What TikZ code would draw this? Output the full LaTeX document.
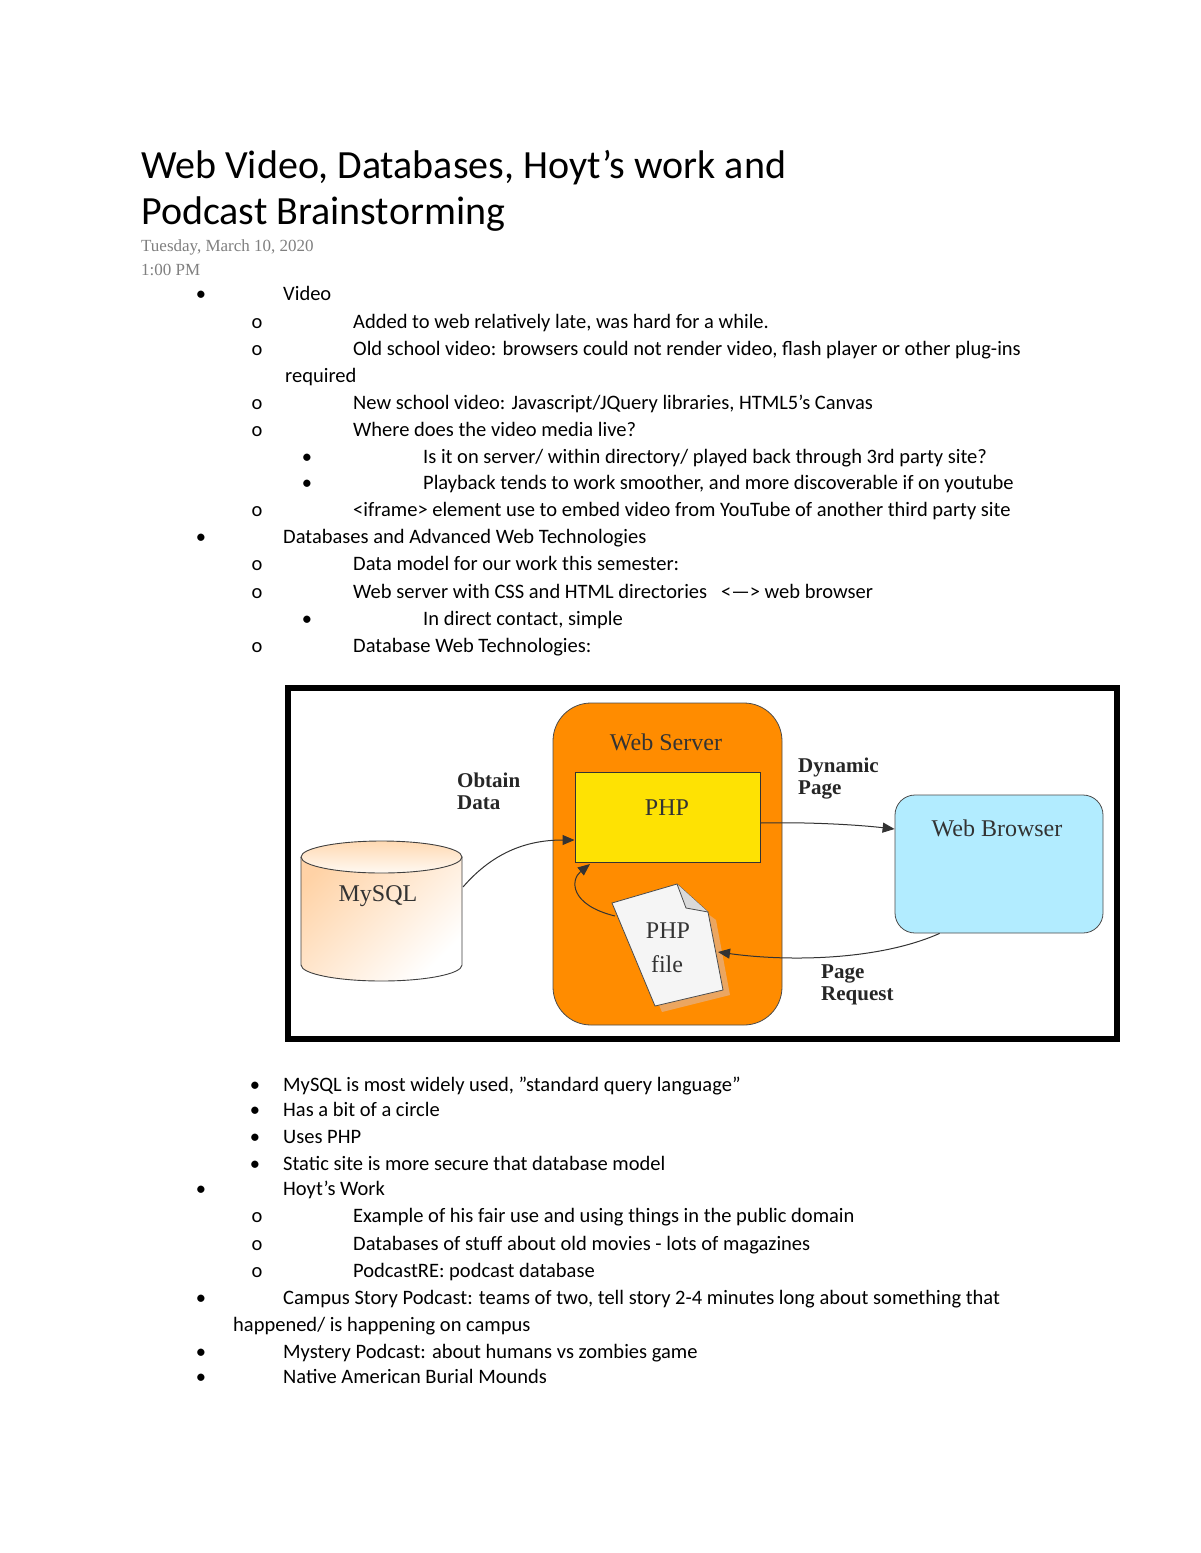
\documentclass[tikz,border=0pt]{standalone}
\usepackage{fontspec}
\setmainfont{Carlito}
\newfontfamily\dserif{Liberation Serif}
\usetikzlibrary{arrows.meta}
\begin{document}
\begin{tikzpicture}[x=1pt,y=-1pt,
  txt/.style={anchor=base west,inner sep=0pt,font=\fontsize{20.5}{24}\selectfont},
  bl/.style={anchor=base,inner sep=0pt,font=\fontsize{20.5}{24}\selectfont},
  lab/.style={font=\dserif\bfseries\fontsize{21}{22}\selectfont,align=left,inner sep=0pt,text=black!85},
  big/.style={font=\dserif\fontsize{24}{26}\selectfont,inner sep=0pt,text=black!80},
  arr/.style={-{Triangle[length=12pt,width=10pt]},line width=1pt,black!80}]
\useasboundingbox[fill=white] (0,0) rectangle (1200,1553);
\node[anchor=base west,inner sep=0pt,font=\fontsize{40}{46}\selectfont,align=left] (title) at (141,178) {Web Video, Databases, Hoyt's work and};
\node[anchor=base west,inner sep=0pt,font=\fontsize{40}{46}\selectfont] (title2) at (141,224) {Podcast Brainstorming};
\node[anchor=base west,inner sep=0pt,text=gray,font=\dserif\fontsize{17}{20}\selectfont] (date) at (141,251) {Tuesday, March 10, 2020};
\node[anchor=base west,inner sep=0pt,text=gray,font=\dserif\fontsize{17}{20}\selectfont] (time) at (141,275) {1:00 PM};
% level marks
\foreach \y in {300,543,1195,1304,1358,1383} \node[bl] at (201,\y) {•};
\foreach \y in {1091,1116,1143,1170} \node[bl] at (255,\y) {•};
\foreach \y in {328,355,409,436,516,570,598,652,1222,1250,1277} \node[bl] at (257,\y) {o};
\foreach \y in {463,489,625} \node[bl] at (307,\y) {•};
\node[txt] (t1) at (283,300) {Video};
\node[txt] (t2) at (353,328) {Added to web relatively late, was hard for a while.};
\node[txt] (t3) at (353,355) {Old school video: browsers could not render video, flash player or other plug-ins};
\node[txt] (t3b) at (285,382) {required};
\node[txt] (t4) at (353,409) {New school video: Javascript/JQuery libraries, HTML5's Canvas};
\node[txt] (t5) at (353,436) {Where does the video media live?};
\node[txt] (t6) at (423,463) {Is it on server/ within directory/ played back through 3rd party site?};
\node[txt] (t7) at (423,489) {Playback tends to work smoother, and more discoverable if on youtube};
\node[txt] (t8) at (353,516) {<iframe> element use to embed video from YouTube of another third party site};
\node[txt] (t9) at (283,543) {Databases and Advanced Web Technologies};
\node[txt] (t10) at (353,570) {Data model for our work this semester:};
\node[txt] (t11) at (353,598) {Web server with CSS and HTML directories \ \ <---> web browser};
\node[txt] (t12) at (423,625) {In direct contact, simple};
\node[txt] (t13) at (353,652) {Database Web Technologies:};
\node[txt] (u1) at (283,1091) {MySQL is most widely used, "standard query language"};
\node[txt] (u2) at (283,1116) {Has a bit of a circle};
\node[txt] (u3) at (283,1143) {Uses PHP};
\node[txt] (u4) at (283,1170) {Static site is more secure that database model};
\node[txt] (u5) at (283,1195) {Hoyt's Work};
\node[txt] (u6) at (353,1222) {Example of his fair use and using things in the public domain};
\node[txt] (u7) at (353,1250) {Databases of stuff about old movies - lots of magazines};
\node[txt] (u8) at (353,1277) {PodcastRE: podcast database};
\node[txt] (u9) at (283,1304) {Campus Story Podcast: teams of two, tell story 2-4 minutes long about something that};
\node[txt] (u9b) at (233,1331) {happened/ is happening on campus};
\node[txt] (u10) at (283,1358) {Mystery Podcast: about humans vs zombies game};
\node[txt] (u11) at (283,1383) {Native American Burial Mounds};
% diagram
\draw[line width=6pt] (288,688) rectangle (1117,1039);
\node[draw=black!70,fill=orange!90!yellow,rounded corners=38pt,minimum width=229pt,minimum height=322pt,line width=0.8pt] (ws) at (667.5,864) {};
\node[big] (wst) at (666,742) {Web Server};
\node[draw=black!80,fill=yellow!85!orange,minimum width=185pt,minimum height=90pt,line width=1pt] (php) at (667.5,817) {};
\node[big] (phpt) at (667,808) {PHP};
% mysql
\shade[left color=orange!35,right color=white,shading angle=45] (301,857) -- (301,965) arc[start angle=180,end angle=360,x radius=80.5pt,y radius=16pt] -- (462,857) arc[start angle=0,end angle=180,x radius=80.5pt,y radius=16pt];
\shade[top color=orange!30,bottom color=orange!5] (381.5,857) ellipse[x radius=80.5pt,y radius=16pt];
\draw[black!75,line width=0.9pt] (301,857) -- (301,965) arc[start angle=180,end angle=360,x radius=80.5pt,y radius=16pt] -- (462,857);
\draw[black!75,line width=0.9pt] (381.5,857) ellipse[x radius=80.5pt,y radius=16pt];
\node[big] (my) at (378,896) {MySQL};
\coordinate (myr) at (463,887);
% browser
\node[draw=black!70,fill=blue!25!cyan!30,rounded corners=20pt,minimum width=208pt,minimum height=138pt,line width=0.8pt] (wb) at (999,864) {};
\node[big] (wbt) at (997,828) {Web Browser};
% php file
\fill[brown!45!orange!70] (620,915) -- (683,895) -- (716,920) -- (730,995) -- (662,1012) -- cycle;
\draw[fill=gray!8,draw=black!70,line width=0.8pt] (612,903) -- (677,884) -- (708,912) -- (723,990) -- (655,1006) -- cycle;
\draw[black!70,line width=0.8pt,fill=gray!30] (677,884) -- (686,908) -- (708,912);
\node[big] (pf1) at (668,931) {PHP};
\node[big] (pf2) at (667,964) {file};
\coordinate (pfl) at (615,916);
\coordinate (pfr) at (718,952);
% arrows
\draw[arr] (myr) .. controls (495,850) and (530,840) .. (php.west |- 0,840);
\draw[arr] (php.east |- 0,823) .. controls (800,822) and (850,824) .. (wb.west |- 0,829);
\draw[arr] (wb.south west) ++(45,0) .. controls (880,960) and (790,962) .. (pfr);
\draw[arr] (pfl) .. controls (570,905) and (570,880) .. (590,864);
\node[lab,anchor=north west] (od) at (457,773) {Obtain\\Data};
\node[lab,anchor=north west] (dp) at (798,758) {Dynamic\\Page};
\node[lab,anchor=north west] (pr) at (821,965) {Page\\Request};
\end{tikzpicture}
\end{document}
